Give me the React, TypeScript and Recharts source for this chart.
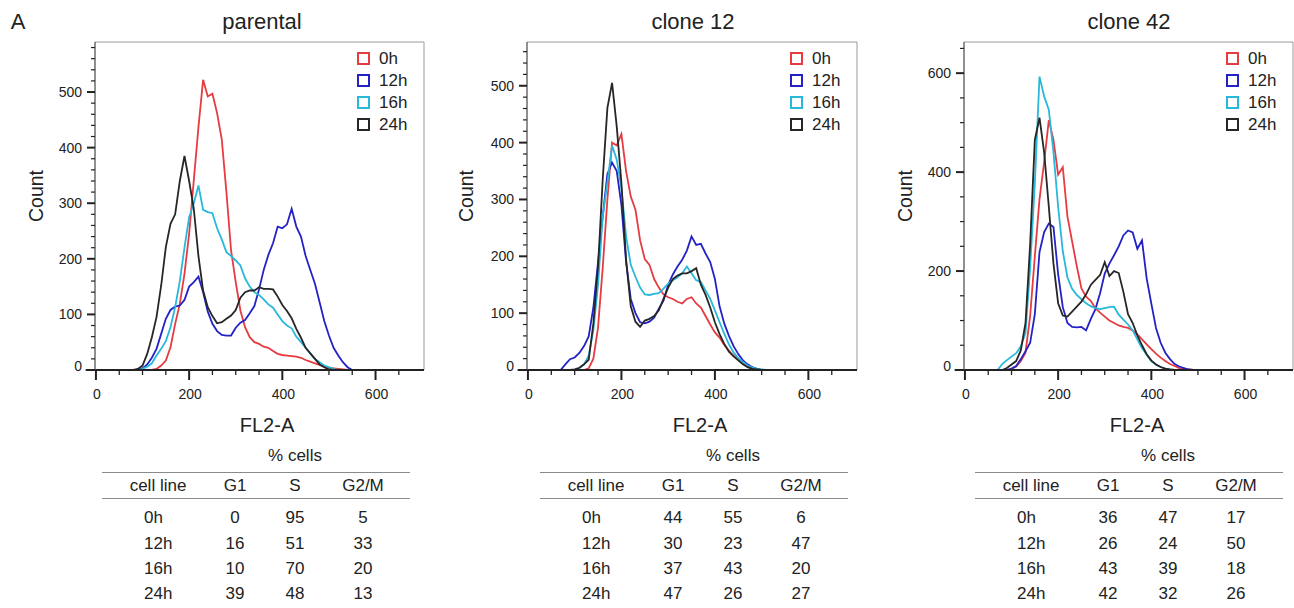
import React from 'react'
import { LineChart, Line, XAxis, YAxis, ReferenceArea, ReferenceLine, Legend } from 'recharts'

const FONT = '"Liberation Sans", Arial, Helvetica, sans-serif'
const INK = '#222'

const TIMEPOINTS = ['0h', '12h', '16h', '24h']
const SERIES_COLORS = ['#e63b40', '#2222c6', '#27b8dc', '#262626']

// FL2-A bin centres
const BINS = [
  0, 60, 70, 80, 90, 100, 110, 120, 130, 140,
  150, 160, 170, 180, 190, 200, 210, 220, 230, 240,
  250, 260, 270, 280, 290, 300, 310, 320, 330, 340,
  350, 360, 370, 380, 390, 400, 410, 420, 430, 440,
  450, 460, 470, 480, 490, 500, 510, 520, 530, 540,
  550, 560, 700,
]

// parental
const PARENTAL_0H = [
  0, 0, 0, 0, 0, 0, 0, 0, 2, 8,
  17, 41, 83, 119, 173, 245, 341, 437, 522, 492,
  497, 462, 415, 320, 215, 158, 107, 77, 59, 50,
  47, 42, 40, 34, 29, 27, 26, 25, 24, 22,
  18, 15, 12, 9, 6, 4, 3, 2, 1, 0,
  0, 0, 0,
]
const PARENTAL_12H = [
  0, 0, 0, 0, 0, 3, 10, 22, 38, 65,
  92, 108, 114, 116, 126, 150, 158, 168, 140, 105,
  83, 70, 63, 62, 62, 76, 85, 90, 102, 115,
  145, 180, 207, 228, 258, 255, 262, 290, 258, 240,
  205, 180, 155, 122, 88, 62, 40, 26, 14, 5,
  0, 0, 0,
]
const PARENTAL_16H = [
  0, 0, 0, 0, 0, 2, 6, 12, 26, 38,
  52, 77, 113, 160, 220, 275, 300, 332, 288, 284,
  282, 255, 235, 212, 205, 197, 188, 165, 150, 140,
  135, 127, 118, 112, 100, 88, 80, 75, 60, 50,
  40, 30, 20, 14, 8, 5, 2, 0, 0, 0,
  0, 0, 0,
]
const PARENTAL_24H = [
  0, 0, 0, 0, 2, 8, 29, 59, 95, 152,
  221, 263, 280, 340, 385, 340, 290, 205, 143, 113,
  97, 84, 86, 92, 98, 108, 130, 140, 143, 143,
  149, 146, 146, 145, 132, 117, 106, 93, 74, 58,
  40, 30, 20, 10, 5, 1, 0, 0, 0, 0,
  0, 0, 0,
]

// clone 12
const CLONE12_0H = [
  0, 0, 0, 0, 0, 0, 0, 0, 3, 20,
  75, 180, 300, 400, 395, 415, 350, 305, 282, 228,
  195, 185, 160, 145, 133, 128, 125, 120, 117, 125,
  128, 117, 110, 95, 80, 66, 57, 44, 34, 25,
  18, 12, 7, 3, 1, 0, 0, 0, 0, 0,
  0, 0, 0,
]
const CLONE12_12H = [
  0, 0, 0, 10, 19, 22, 30, 42, 59, 110,
  190, 270, 345, 365, 350, 290, 190, 125, 100, 84,
  82, 85, 92, 108, 122, 150, 168, 182, 194, 210,
  235, 220, 222, 205, 190, 160, 112, 82, 60, 42,
  28, 17, 10, 5, 2, 0, 0, 0, 0, 0,
  0, 0, 0,
]
const CLONE12_16H = [
  0, 0, 0, 0, 0, 0, 3, 10, 25, 70,
  150, 270, 330, 395, 370, 320, 235, 185, 164, 145,
  133, 132, 134, 135, 143, 152, 158, 163, 170, 182,
  170, 158, 155, 140, 125, 105, 84, 64, 45, 31,
  21, 14, 8, 4, 2, 1, 0, 0, 0, 0,
  0, 0, 0,
]
const CLONE12_24H = [
  0, 0, 0, 0, 0, 1, 4, 10, 18, 82,
  182, 335, 461, 505, 428, 329, 194, 112, 85, 76,
  87, 90, 95, 105, 125, 145, 160, 166, 170, 170,
  174, 179, 150, 132, 110, 84, 63, 46, 32, 24,
  17, 10, 5, 2, 1, 0, 0, 0, 0, 0,
  0, 0, 0,
]

// clone 42
const CLONE42_0H = [
  0, 0, 0, 0, 0, 2, 7, 18, 35, 110,
  230, 345, 420, 505, 465, 395, 410, 310, 260, 210,
  165, 148, 140, 125, 116, 108, 100, 95, 90, 87,
  85, 80, 72, 62, 52, 42, 33, 25, 18, 12,
  8, 4, 2, 1, 0, 0, 0, 0, 0, 0,
  0, 0, 0,
]
const CLONE42_12H = [
  0, 0, 0, 0, 0, 3, 8, 22, 38, 55,
  113, 238, 279, 296, 289, 194, 127, 95, 87, 86,
  87, 80, 103, 123, 155, 195, 215, 232, 250, 272,
  282, 278, 245, 262, 185, 134, 85, 55, 35, 22,
  12, 7, 4, 1, 0, 0, 0, 0, 0, 0,
  0, 0, 0,
]
const CLONE42_16H = [
  0, 0, 0, 12, 20, 27, 34, 48, 75, 208,
  377, 593, 553, 526, 440, 330, 240, 187, 164, 152,
  143, 135, 129, 125, 123, 125, 127, 128, 112, 102,
  92, 80, 62, 44, 31, 18, 11, 6, 3, 1,
  0, 0, 0, 0, 0, 0, 0, 0, 0, 0,
  0, 0, 0,
]
const CLONE42_24H = [
  0, 0, 0, 0, 4, 11, 18, 40, 95, 255,
  465, 510, 440, 330, 215, 135, 110, 108, 118, 128,
  138, 153, 172, 182, 192, 218, 190, 200, 196, 158,
  113, 95, 70, 50, 32, 19, 11, 6, 3, 1,
  0, 0, 0, 0, 0, 0, 0, 0, 0, 0,
  0, 0, 0,
]

// % cells tables
const PARENTAL_G1 = [0, 16, 10, 39]
const PARENTAL_S = [95, 51, 70, 48]
const PARENTAL_G2M = [5, 33, 20, 13]
const CLONE12_G1 = [44, 30, 37, 47]
const CLONE12_S = [55, 23, 43, 26]
const CLONE12_G2M = [6, 47, 20, 27]
const CLONE42_G1 = [36, 26, 43, 42]
const CLONE42_S = [47, 24, 39, 32]
const CLONE42_G2M = [17, 50, 18, 26]

const X_TICKS = [0, 50, 100, 150, 200, 250, 300, 350, 400, 450, 500, 550, 600, 650]
const X_MAJOR = [0, 200, 400, 600]

const range = (from: number, to: number, step: number) => {
  const out: number[] = []
  for (let v = from; v <= to; v += step) out.push(v)
  return out
}

const PANELS = [
  {
    title: 'parental', left: 0, plotLeft: 95, plotRight: 424, yMax: 590,
    yTicks: range(0, 580, 20), yMajor: 100,
    series: [PARENTAL_0H, PARENTAL_12H, PARENTAL_16H, PARENTAL_24H],
    g1: PARENTAL_G1, s: PARENTAL_S, g2m: PARENTAL_G2M,
    titleX: 262, countX: 37, xLabelX: 267, tableLeft: 102,
  },
  {
    title: 'clone 12', left: 440, plotLeft: 527, plotRight: 857, yMax: 577,
    yTicks: range(0, 560, 20), yMajor: 100,
    series: [CLONE12_0H, CLONE12_12H, CLONE12_16H, CLONE12_24H],
    g1: CLONE12_G1, s: CLONE12_S, g2m: CLONE12_G2M,
    titleX: 693, countX: 467, xLabelX: 700, tableLeft: 540,
  },
  {
    title: 'clone 42', left: 870, plotLeft: 964, plotRight: 1293, yMax: 663,
    yTicks: range(0, 650, 50), yMajor: 200,
    series: [CLONE42_0H, CLONE42_12H, CLONE42_16H, CLONE42_24H],
    g1: CLONE42_G1, s: CLONE42_S, g2m: CLONE42_G2M,
    titleX: 1129, countX: 906, xLabelX: 1137, tableLeft: 975,
  },
]

function renderXTick(props: any) {
  const { x, y, payload } = props
  const major = X_MAJOR.includes(payload.value)
  return (
    <g>
      <line x1={x} x2={x} y1={y} y2={y + (major ? 10 : 5)} stroke={INK} strokeWidth={major ? 2 : 1.3} />
      {major && (
        <text x={x + 1} y={y + 24} textAnchor="middle" dominantBaseline="central" fontSize={14} fill={INK} fontFamily={FONT}>
          {payload.value}
        </text>
      )}
    </g>
  )
}

function makeYTick(majorStep: number) {
  return (props: any) => {
    const { x, y, payload } = props
    const major = payload.value % majorStep === 0
    return (
      <g>
        <line x1={x - (major ? 8 : 4)} x2={x} y1={y} y2={y} stroke={INK} strokeWidth={major ? 2 : 1.2} />
        {major && (
          <text x={x - 13} y={payload.value === 0 ? y - 4 : y} textAnchor="end" dominantBaseline="central" fontSize={14} fill={INK} fontFamily={FONT}>
            {payload.value}
          </text>
        )}
      </g>
    )
  }
}

function renderLegend(props: any) {
  const items = props.payload ?? []
  return (
    <div style={{ fontFamily: FONT, fontSize: 17, color: INK }}>
      {items.map((item: any) => (
        <div key={item.value} style={{ display: 'flex', alignItems: 'center', height: 22 }}>
          <span style={{ width: 9, height: 9, border: `2px solid ${item.color}`, display: 'inline-block' }} />
          <span style={{ marginLeft: 9, lineHeight: 1 }}>{item.value}</span>
        </div>
      ))}
    </div>
  )
}

function Txt({ x, y, size, children, rotate, anchor = 'middle' }: any) {
  const tx = anchor === 'middle' ? '-50%' : anchor === 'end' ? '-100%' : '0'
  return (
    <div
      style={{
        position: 'absolute', left: x, top: y, fontSize: size, lineHeight: 1, whiteSpace: 'nowrap',
        transform: `translate(${tx}, -50%)${rotate ? ` rotate(${rotate}deg)` : ''}`,
      }}
    >
      {children}
    </div>
  )
}

function HistPanel({ panel }: any) {
  const { left, plotLeft, plotRight, yMax, yTicks, yMajor, series } = panel
  const data = BINS.map((x, i) => {
    const row: Record<string, number> = { x }
    TIMEPOINTS.forEach((t, k) => { row[t] = series[k][i] })
    return row
  })
  const width = plotRight - left + 10

  return (
    <div style={{ position: 'absolute', left, top: 0 }}>
      <LineChart width={width} height={440} data={data} margin={{ top: 42, right: 10, bottom: 40, left: plotLeft - left - 40 }}>
        <ReferenceArea x1={-2} x2={704} y1={0} y2={yMax} fill="none" stroke="#9a9a9a" strokeWidth={1} ifOverflow="visible" />
        <XAxis
          dataKey="x" type="number" domain={[-2, 704]} allowDataOverflow ticks={X_TICKS} interval={0}
          tickSize={0} tickMargin={0} height={30} axisLine={{ stroke: INK, strokeWidth: 2 }} tick={renderXTick}
        />
        <YAxis
          type="number" domain={[0, yMax]} allowDataOverflow ticks={yTicks} interval={0} width={40}
          tickSize={0} tickMargin={0} axisLine={{ stroke: '#555', strokeWidth: 1 }} tick={makeYTick(yMajor)}
        />
        <ReferenceLine segment={[{ x: -22, y: 0 }, { x: -2, y: 0 }]} stroke={INK} strokeWidth={2} ifOverflow="visible" />
        {TIMEPOINTS.map((t, k) => (
          <Line key={t} type="linear" dataKey={t} stroke={SERIES_COLORS[k]} strokeWidth={1.8} dot={false} isAnimationActive={false} />
        ))}
        <Legend
          layout="vertical" align="center" verticalAlign="middle"
          wrapperStyle={{ left: plotRight - left - 67, top: 47, width: 70 }}
          content={renderLegend}
        />
      </LineChart>
    </div>
  )
}

function CellTable({ panel }: any) {
  const L = panel.tableLeft
  const rowY = [517, 543, 568, 593]
  const cols = [L + 133, L + 193, L + 261]
  const rule = (y: number) => (
    <div style={{ position: 'absolute', left: L, top: y, width: 308, height: 1, background: '#8a8a8a' }} />
  )
  return (
    <>
      <Txt x={L + 193} y={455} size={17}>% cells</Txt>
      {rule(472)}
      <Txt x={L + 56} y={485} size={17}>cell line</Txt>
      <Txt x={cols[0]} y={485} size={17}>G1</Txt>
      <Txt x={cols[1]} y={485} size={17}>S</Txt>
      <Txt x={cols[2]} y={485} size={17}>G2/M</Txt>
      {rule(498)}
      {TIMEPOINTS.map((t, i) => (
        <React.Fragment key={t}>
          <Txt x={L + 42} y={rowY[i]} size={17} anchor="start">{t}</Txt>
          <Txt x={cols[0]} y={rowY[i]} size={17}>{panel.g1[i]}</Txt>
          <Txt x={cols[1]} y={rowY[i]} size={17}>{panel.s[i]}</Txt>
          <Txt x={cols[2]} y={rowY[i]} size={17}>{panel.g2m[i]}</Txt>
        </React.Fragment>
      ))}
    </>
  )
}

export default function App() {
  return (
    <div
      style={{
        position: 'absolute', left: 0, top: 0, width: 1294, height: 608, overflow: 'hidden',
        background: '#fff', fontFamily: FONT, color: INK,
      }}
    >
      <Txt x={18} y={22} size={22}>A</Txt>
      {PANELS.map((p) => (
        <React.Fragment key={p.title}>
          <HistPanel panel={p} />
          <Txt x={p.titleX} y={22} size={22}>{p.title}</Txt>
          <Txt x={p.countX} y={196} size={19.5} rotate={-90}>Count</Txt>
          <Txt x={p.xLabelX} y={425} size={20}>FL2-A</Txt>
          <CellTable panel={p} />
        </React.Fragment>
      ))}
    </div>
  )
}
